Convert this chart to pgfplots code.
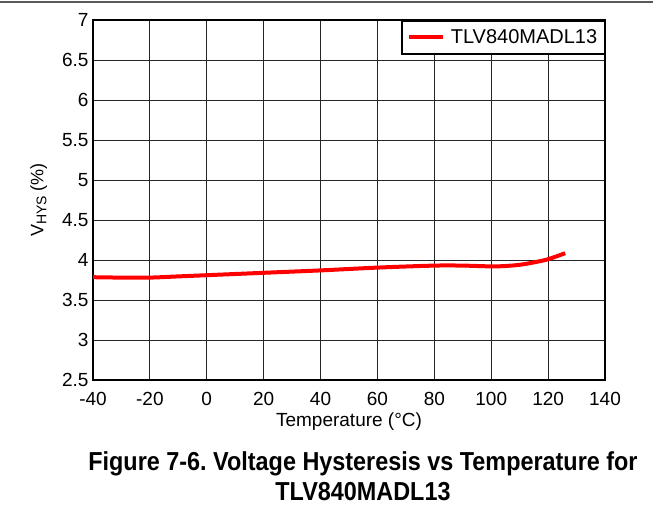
\documentclass[border=0pt]{standalone}
\usepackage{pgfplots}
\pgfplotsset{compat=1.18}
\usepackage{fontspec}
\setmainfont{Liberation Sans}
\frenchspacing
\begin{document}
\begin{tikzpicture}[x=1pt,y=1pt]
\path[use as bounding box] (0,0) rectangle (653,514);
\draw[black!65, line width=1.5pt] (0,512) -- (653,512);
\begin{axis}[
  at={(93pt,134pt)}, anchor=south west,
  scale only axis, width=512pt, height=360pt,
  xmin=-40, xmax=140, ymin=2.5, ymax=7,
  xtick={-40,-20,...,140}, ytick={2.5,3,...,7},
  /pgf/number format/assume math mode=true,
  tick label style={font=\fontsize{19}{19}\selectfont},
  xticklabel style={yshift=-9pt},
  yticklabel style={xshift=-1pt},
  major tick length=0pt,
  grid=major,
  major grid style={black!85, line width=0.9pt},
  axis line style={line width=2.6pt},
  xlabel={\fontsize{19}{19}\selectfont Temperature (°C)},
  ylabel={\fontsize{18}{18}\selectfont V\raisebox{-0.3ex}{\fontsize{14}{14}\selectfont HYS} (\%)},
  xlabel style={yshift=0pt},
  ylabel style={yshift=8pt},
  legend style={at={(1,1)}, anchor=north east, draw=black, line width=1.5pt,
    inner xsep=5pt, inner ysep=7pt},
  legend image code/.code={\draw[line width=4pt, red] (0pt,0pt) -- (34pt,0pt);},
  legend cell align=left,
]
\addplot[red, line width=4pt, smooth, tension=0.5] coordinates {
  (-40,3.785) (-30,3.78) (-20,3.78) (-10,3.795) (0,3.81) (20,3.84) (40,3.87)
  (60,3.905) (80,3.93) (90,3.93) (100,3.92) (105,3.925) (110,3.94)
  (115,3.97) (120,4.01) (126,4.085)
};
\addlegendentry{\fontsize{20}{20}\selectfont\hspace{4pt}TLV840MADL13}
\end{axis}
\node[font=\bfseries\fontsize{26}{26}\selectfont, align=center, inner sep=0pt] at (363,38) {\scalebox{0.9}[1]{Figure 7-6. Voltage Hysteresis vs Temperature for}\\[4pt]\scalebox{0.9}[1]{TLV840MADL13}};
\end{tikzpicture}
\end{document}
